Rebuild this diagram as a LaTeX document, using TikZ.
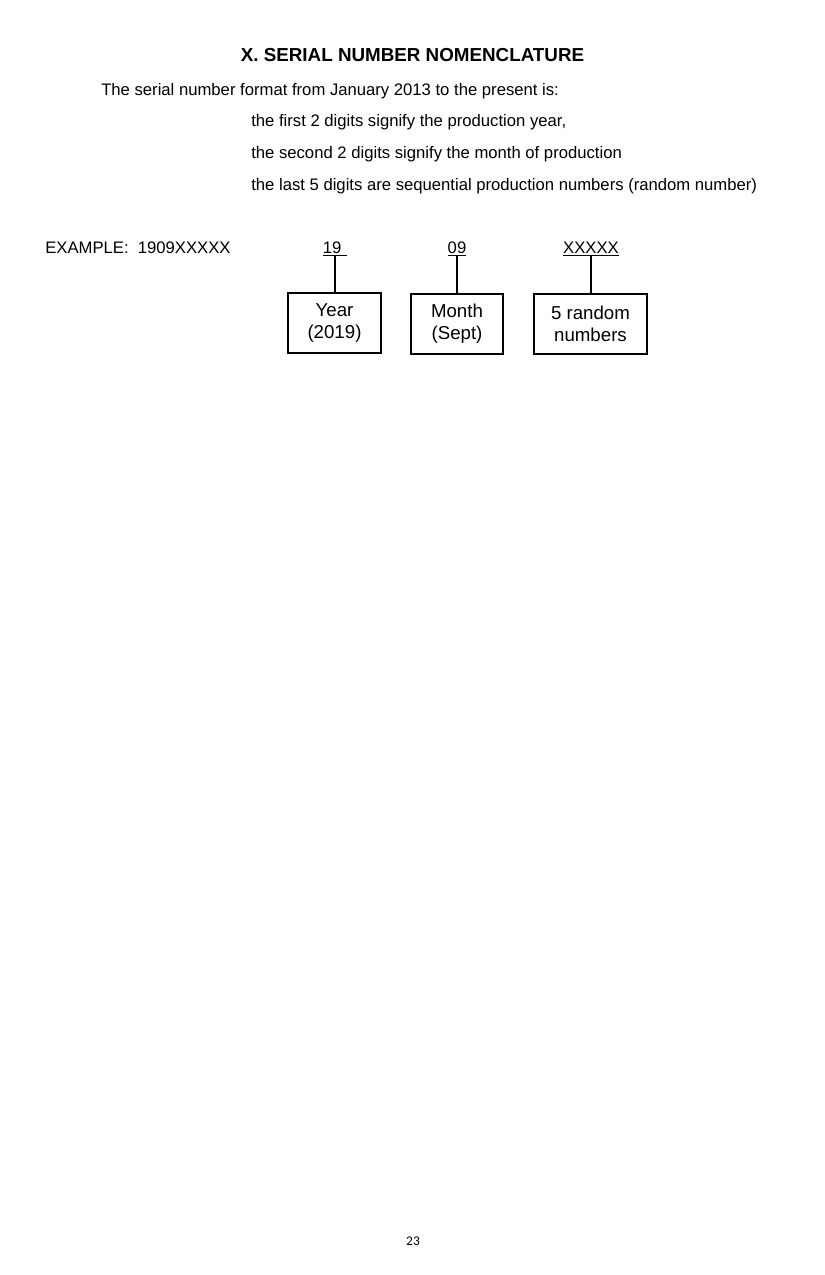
\documentclass[tikz,border=0pt]{standalone}
\usepackage{fontspec}
\setmainfont{Liberation Sans}
\newfontfamily\pagefont{Carlito}
\begin{document}
\begin{tikzpicture}[x=0.75pt,y=-0.75pt,
  line/.style={inner sep=0pt,anchor=base west,font=\fontsize{12.5}{15}\selectfont},
  digits/.style={inner sep=0pt,anchor=base,font=\fontsize{12.5}{15}\selectfont},
  field/.style={draw,line width=1pt,inner sep=0pt,minimum height=45pt,align=center,
    font=\fontsize{14}{16.5}\selectfont}]
\useasboundingbox (0,0) rectangle (825,1275);
\node[inner sep=0pt,anchor=base,font=\fontsize{14.1}{17}\selectfont\bfseries] (title) at (412.5,61) {X. SERIAL NUMBER NOMENCLATURE};
\node[line] (intro) at (101,95) {The serial number format from January 2013 to the present is:};
\node[line] (first) at (251,126) {the first 2 digits signify the production year,};
\node[line] (second) at (251,158) {the second 2 digits signify the month of production};
\node[line] (last) at (251,190) {the last 5 digits are sequential production numbers (random number)};
\node[line] (example) at (45,253) {EXAMPLE:\ \ 1909XXXXX};
\node[digits] (yy) at (335,253) {\underline{19\,\,}};
\node[digits] (mm) at (457,253) {\underline{09}};
\node[digits] (xx) at (591,253) {\underline{XXXXX}};
\node[field,minimum width=69.75pt] (year) at (334.5,323) {Year\\(2019)};
\node[field,minimum width=69pt] (month) at (457,324) {Month\\(Sept)};
\node[field,minimum width=84.75pt] (rand) at (590.5,324) {5 random\\numbers};
\draw[line width=1pt] (yy.south) -- (yy.south |- year.north);
\draw[line width=1pt] (mm.south) -- (mm.south |- month.north);
\draw[line width=1pt] (xx.south) -- (xx.south |- rand.north);
\node[inner sep=0pt,anchor=base,font=\pagefont\fontsize{10}{12}\selectfont] (page) at (413,1245) {23};
\end{tikzpicture}
\end{document}
